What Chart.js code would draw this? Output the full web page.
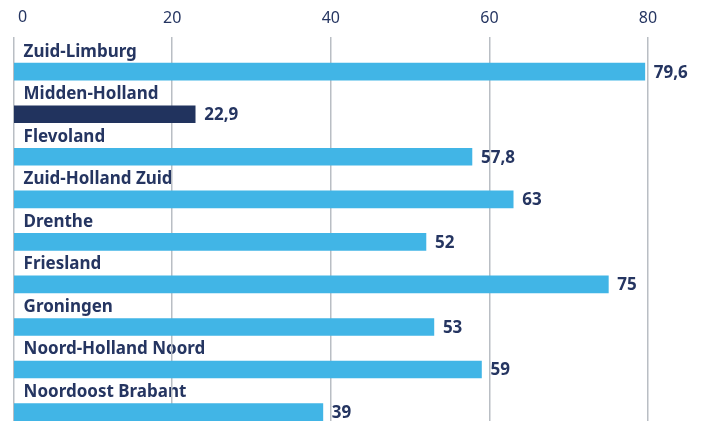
<!DOCTYPE html>
<html>
<head>
<meta charset="utf-8">
<script src="https://cdn.jsdelivr.net/npm/chart.js@4.4.1/dist/chart.umd.min.js"></script>
<style>
  html, body { margin: 0; padding: 0; background: #ffffff; }
  .chart-wrap { width: 702px; height: 421px; position: relative; }
</style>
</head>
<body>
<div class="chart-wrap"><canvas id="chart-regions"></canvas></div>
<script>
// Chart data
const regions = [
  "Zuid-Limburg", "Midden-Holland", "Flevoland", "Zuid-Holland Zuid",
  "Drenthe", "Friesland", "Groningen", "Noord-Holland Noord", "Noordoost Brabant",
];
const values = [79.6, 22.9, 57.8, 63, 52, 75, 53, 59, 39];
const highlighted = ["Midden-Holland"];
const xTicks = [0, 20, 40, 60, 80];

const LIGHT_BLUE = "#41b5e6";
const NAVY = "#21335e";
const TEXT = "#253561";
const FONT = "'Noto Sans', sans-serif";

// Region name above each bar, value at its end
const barLabels = {
  id: "barLabels",
  beforeDraw(chart) {
    const { ctx } = chart;
    const meta = chart.getDatasetMeta(0);
    ctx.save();
    ctx.fillStyle = TEXT;
    ctx.font = "bold 17px " + FONT;
    ctx.textBaseline = "middle";
    ctx.textAlign = "left";
    meta.data.forEach((bar, i) => {
      ctx.fillText(regions[i], chart.chartArea.left + 10, bar.y - 20);
    });
    ctx.restore();
  },
  afterDatasetsDraw(chart) {
    const { ctx } = chart;
    const meta = chart.getDatasetMeta(0);
    ctx.save();
    ctx.fillStyle = TEXT;
    ctx.font = "bold 17px " + FONT;
    ctx.textBaseline = "middle";
    ctx.textAlign = "left";
    meta.data.forEach((bar, i) => {
      ctx.fillText(String(values[i]).replace(".", ","), bar.x + 9, bar.y + 1);
    });
    // the "0" tick sits a bit right of its grid line
    const x = chart.scales.x;
    ctx.font = "16px " + FONT;
    ctx.textAlign = "center";
    ctx.fillText("0", x.getPixelForValue(0) + 9, 17);
    ctx.restore();
  },
};

new Chart(document.getElementById("chart-regions"), {
  type: "bar",
  data: {
    datasets: [
      {
        data: values.map((v, i) => ({ x: v, y: i })),
        backgroundColor: regions.map((r) => (highlighted.includes(r) ? NAVY : LIGHT_BLUE)),
        barThickness: 17,
        borderWidth: 0,
      },
    ],
  },
  options: {
    indexAxis: "y",
    responsive: true,
    maintainAspectRatio: false,
    animation: false,
    layout: { padding: { left: 13, right: 54, top: 0, bottom: 0 } },
    plugins: { legend: { display: false }, tooltip: { enabled: false } },
    scales: {
      x: {
        type: "linear",
        position: "top",
        min: 0,
        max: 80,
        afterBuildTicks: (axis) => { axis.ticks = xTicks.map((v) => ({ value: v })); },
        border: { display: false },
        grid: { color: "#b9bec4", lineWidth: 1.5, drawTicks: false },
        ticks: {
          color: (c) => (c.tick && c.tick.value === 0 ? "rgba(0,0,0,0)" : TEXT),
          font: { family: FONT, size: 16 },
          padding: 9,
        },
      },
      y: {
        type: "linear",
        display: false,
        reverse: true,
        offset: false,
        min: -0.81,
        max: 8.21,
      },
    },
  },
  plugins: [barLabels],
});
</script>
</body>
</html>
